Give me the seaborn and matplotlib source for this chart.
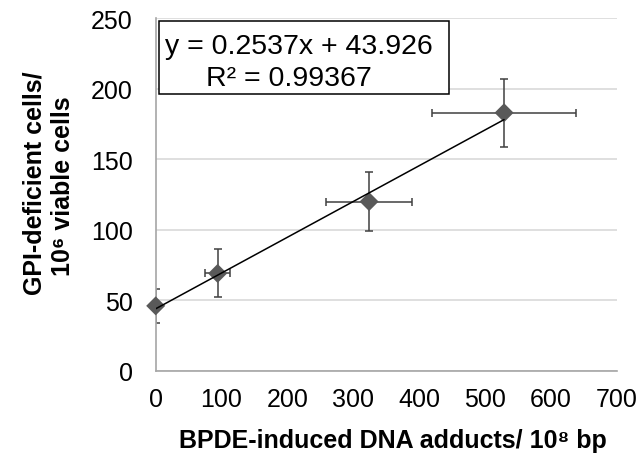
import matplotlib
matplotlib.use("Agg")
import matplotlib.pyplot as plt
from matplotlib.patches import Rectangle
import numpy as np
import pandas as pd
import seaborn as sns

# BPDE-induced DNA adducts per 10^8 bp (mean and spread)
adducts = [0, 94, 324, 529]
adducts_err = [0, 19, 65, 109]
# GPI-deficient cells per 10^6 viable cells (mean and spread)
gpi_cells = [46, 69, 120, 183]
gpi_err = [12, 17, 21, 24]

# Linear trendline
slope = 0.2537
intercept = 43.926
r_squared = 0.99367

x_ticks = [0, 100, 200, 300, 400, 500, 600, 700]
y_ticks = [0, 50, 100, 150, 200, 250]

sns.set_theme(style="white")
plt.rcParams["font.family"] = ["Liberation Sans", "DejaVu Sans"]

W, H = 644, 460
fig = plt.figure(figsize=(W / 100, H / 100), dpi=100)

left, right, top, bottom = 155.7, 616.7, 19.3, 371.7
ax = fig.add_axes([left / W, 1 - bottom / H, (right - left) / W, (bottom - top) / H])

axis_gray = "#a6a6a6"
grid_gray = "#d9d9d9"

ax.set_xlim(x_ticks[0], x_ticks[-1])
ax.set_ylim(y_ticks[0], y_ticks[-1])
ax.set_xticks(x_ticks)
ax.set_yticks(y_ticks)
ax.yaxis.grid(True, color=grid_gray, linewidth=1.2, zorder=0)
ax.xaxis.grid(False)
ax.set_axisbelow(True)

for side in ("top", "right"):
    ax.spines[side].set_visible(False)
for side in ("left", "bottom"):
    ax.spines[side].set_color(axis_gray)
    ax.spines[side].set_linewidth(1.2)

ax.tick_params(axis="both", direction="out", length=6.5, width=1.0,
               color=axis_gray, labelsize=18, labelcolor="black")
ax.tick_params(axis="x", pad=5)
ax.tick_params(axis="y", pad=10)

# Error bars
ax.errorbar(adducts, gpi_cells, xerr=adducts_err, yerr=gpi_err, fmt="none",
            ecolor="#404040", elinewidth=1.1, capsize=3, capthick=1.1, zorder=2)

# Data points
points = pd.DataFrame({"adducts": adducts, "gpi": gpi_cells})
sns.scatterplot(data=points, x="adducts", y="gpi", marker="D", s=94,
                color="#595959", edgecolor="none", ax=ax, zorder=3,
                clip_on=False, legend=False)

# Fitted line across the data range
fit_x = np.array([min(adducts), max(adducts)], dtype=float)
fit = pd.DataFrame({"x": fit_x, "y": slope * fit_x + intercept})
sns.lineplot(data=fit, x="x", y="y", color="black", linewidth=1.1, ax=ax, zorder=4)

ax.set_xlabel("")
ax.set_ylabel("")

# Equation box
bx0, bx1, by0, by1 = 159.3, 449.0, 21.7, 95.0
fig.patches.append(Rectangle((bx0 / W, 1 - by1 / H), (bx1 - bx0) / W, (by1 - by0) / H,
                             transform=fig.transFigure, facecolor="white",
                             edgecolor="black", linewidth=1.1, zorder=5))
fig.text(299 / W, 1 - 53.5 / H, f"y = {slope}x + {intercept}", ha="center",
         va="baseline", fontsize=20.5, color="black", zorder=6)
fig.text(289 / W, 1 - 86.5 / H, f"R² = {r_squared}", ha="center",
         va="baseline", fontsize=20.5, color="black", zorder=6)

# Axis titles
fig.text(393 / W, 1 - 448 / H, "BPDE-induced DNA adducts/ 10⁸ bp", ha="center",
         va="baseline", fontsize=18, fontweight="bold", color="black")
fig.text(41.7 / W, 1 - 183 / H, "GPI-deficient cells/", rotation=90,
         rotation_mode="anchor", ha="center", va="baseline", fontsize=18,
         fontweight="bold", color="black")
fig.text(70 / W, 1 - 186 / H, "10⁶ viable cells", rotation=90,
         rotation_mode="anchor", ha="center", va="baseline", fontsize=18,
         fontweight="bold", color="black")

fig.savefig("out.png", dpi=100)
